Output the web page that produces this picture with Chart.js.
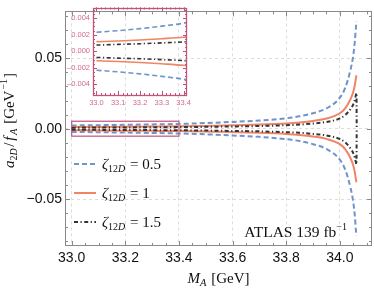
<!DOCTYPE html>
<html>
<head>
<meta charset="utf-8">
<script src="https://cdn.jsdelivr.net/npm/chart.js@4.4.1/dist/chart.umd.min.js"></script>
<style>
  html, body { margin: 0; padding: 0; background: #fff; }
  #wrap { position: relative; width: 374px; height: 292px; }
  #wrap canvas { position: absolute; left: 0; top: 0; }
</style>
</head>
<body>
<div id="wrap">
  <canvas id="mainChart" width="374" height="292"></canvas>
  <canvas id="insetChart" width="374" height="292"></canvas>
</div>
<script>
// Values (upper branch, the lower branch is its mirror image)
const massPoints = [33.0, 33.1, 33.2, 33.3, 33.4, 33.5, 33.6, 33.7, 33.8, 33.85, 33.9, 33.95, 34.0, 34.02, 34.04, 34.05, 34.056, 34.06, 34.062];
const zeta05Values = [0.0023, 0.0025, 0.00274, 0.00304, 0.0034, 0.004, 0.0048, 0.0058, 0.0074, 0.0088, 0.011, 0.0144, 0.022, 0.029, 0.042, 0.052, 0.062, 0.072, 0.076];
const zeta1Values = [0.00115, 0.00125, 0.00137, 0.00152, 0.0017, 0.002, 0.0024, 0.0029, 0.0037, 0.0044, 0.0055, 0.0072, 0.011, 0.0145, 0.021, 0.026, 0.031, 0.036, 0.038];
const zeta15Values = [0.00075, 0.00083, 0.00091, 0.00101, 0.00113, 0.00133, 0.0016, 0.0019, 0.0025, 0.0029, 0.0037, 0.0048, 0.0073, 0.0097, 0.014, 0.0173, 0.0207, 0.024, 0.0253];
const zeta15EndMass = 34.063; // the dash-dot curve closes through zero here
const zetaLabels = ['0.5', '1', '1.5'];

// tick labels
const xTickValues = [33.0, 33.2, 33.4, 33.6, 33.8, 34.0];
const xTickLabels = ['33.0', '33.2', '33.4', '33.6', '33.8', '34.0'];
const yTickValues = [-0.05, 0, 0.05];
const yTickLabels = ['\u22120.05', '0.00', '0.05'];
const insetXTickValues = [33.0, 33.1, 33.2, 33.3, 33.4];
const insetXTickLabels = ['33.0', '33.1', '33.2', '33.3', '33.4'];
const insetYTickValues = [-0.004, -0.002, 0, 0.002, 0.004];
const insetYTickLabels = ['\u20130.004', '\u20130.002', '0.000', '0.002', '0.004'];

// zoom window shown in the inset
const insetRange = { xMin: 33.0, xMax: 33.4, yMin: -0.0053, yMax: 0.0053 };

Chart.defaults.font.family = '"Liberation Sans", Arial, sans-serif';
Chart.defaults.animation = false;

const SERIF = '"Liberation Serif", "DejaVu Serif", serif';
const FRAME_GRAY = '#8a8a8a';
const PINK = '#c4507c';
const PINK_TEXT = '#d06a92';

const seriesStyles = [
    { color: '#6f93cb', dash: [5, 3], order: 2 },
    { color: '#f08466', dash: [], order: 1 },
    { color: '#333333', dash: [4, 2.5, 1.2, 2.5], order: 0 }
];

function toPoints(xs, ys, sign) {
    return xs.map((x, i) => ({ x: x, y: sign * ys[i] }));
}

function buildDatasets(lineWidth) {
    const curves = [zeta05Values, zeta1Values, zeta15Values];
    const sets = [];
    curves.forEach((vals, k) => {
        const st = seriesStyles[k];
        [1, -1].forEach(sign => {
            let pts = toPoints(massPoints, vals, sign);
            if (k === 2) pts.push({ x: zeta15EndMass, y: 0 });
            sets.push({
                label: 'zeta ' + zetaLabels[k],
                data: pts,
                borderColor: st.color,
                borderDash: st.dash,
                borderWidth: lineWidth,
                pointRadius: 0,
                fill: false,
                order: st.order,
                cubicInterpolationMode: 'monotone'
            });
        });
    });
    return sets;
}

/**
 * Draw a row of text pieces (for sub/superscripts) on one baseline
 */
function drawRuns(ctx, runs, x, y, align) {
    let total = 0;
    runs.forEach(r => {
        ctx.font = r.font;
        r.w = ctx.measureText(r.text).width + (r.gap || 0);
        total += r.w;
    });
    let cx = align === 'center' ? x - total / 2 : (align === 'right' ? x - total : x);
    ctx.textAlign = 'left';
    ctx.textBaseline = 'alphabetic';
    runs.forEach(r => {
        ctx.font = r.font;
        ctx.fillText(r.text, cx + (r.pre || 0), y + (r.dy || 0));
        cx += r.w;
    });
}

function it(size) { return 'italic ' + size + 'px ' + SERIF; }
function rm(size) { return size + 'px ' + SERIF; }

/**
 * Frame with inward ticks on all four sides
 */
function drawFrame(chart, opt) {
    const { ctx, chartArea: a, scales } = chart;
    const xs = scales.x, ys = scales.y;
    ctx.save();
    ctx.strokeStyle = opt.color;
    ctx.lineWidth = 1;
    const tick = (x1, y1, x2, y2) => {
        ctx.beginPath();
        ctx.moveTo(x1, y1);
        ctx.lineTo(x2, y2);
        ctx.stroke();
    };
    const xTicks = (vals, len) => vals.forEach(v => {
        const px = Math.round(xs.getPixelForValue(v)) + 0.5;
        if (px < a.left || px > a.right) return;
        tick(px, a.bottom, px, a.bottom - len);
        tick(px, a.top, px, a.top + len);
    });
    const yTicks = (vals, len) => vals.forEach(v => {
        const py = Math.round(ys.getPixelForValue(v)) + 0.5;
        if (py < a.top || py > a.bottom) return;
        tick(a.left, py, a.left + len, py);
        tick(a.right, py, a.right - len, py);
    });
    xTicks(opt.xMajor, opt.majLen);
    xTicks(opt.xMinor, opt.minLen);
    yTicks(opt.yMajor, opt.majLen);
    yTicks(opt.yMinor, opt.minLen);
    ctx.lineWidth = opt.frameWidth || 1;
    ctx.strokeRect(Math.round(a.left) + 0.5, Math.round(a.top) + 0.5,
        Math.round(a.right - a.left) - 1, Math.round(a.bottom - a.top) - 1);
    ctx.restore();
}

function range(from, to, step) {
    const out = [];
    const n = Math.round((to - from) / step);
    for (let i = 0; i <= n; i++) out.push(+(from + i * step).toFixed(6));
    return out;
}

const mainDecor = {
    id: 'mainDecor',
    beforeDatasetsDraw(chart) {
        const { ctx, scales } = chart;
        // box marking the zoomed region
        const x1 = scales.x.getPixelForValue(insetRange.xMin);
        const x2 = scales.x.getPixelForValue(insetRange.xMax);
        const y1 = scales.y.getPixelForValue(insetRange.yMax);
        const y2 = scales.y.getPixelForValue(insetRange.yMin);
        ctx.save();
        ctx.strokeStyle = PINK;
        ctx.lineWidth = 1.2;
        ctx.strokeRect(x1, y1, x2 - x1, y2 - y1);
        ctx.restore();
    },
    afterDraw(chart) {
        const { ctx, chartArea: a } = chart;
        drawFrame(chart, {
            color: FRAME_GRAY,
            xMajor: xTickValues, xMinor: range(33.0, 34.1, 0.05),
            yMajor: yTickValues, yMinor: range(-0.08, 0.08, 0.01),
            majLen: 5, minLen: 3
        });

        ctx.save();
        ctx.fillStyle = '#111';

        // legend
        const rows = [164, 193, 222];
        rows.forEach((ry, k) => {
            const st = seriesStyles[k];
            ctx.save();
            ctx.strokeStyle = st.color;
            ctx.lineWidth = 2;
            ctx.setLineDash(st.dash);
            ctx.beginPath();
            ctx.moveTo(74, ry);
            ctx.lineTo(96, ry);
            ctx.stroke();
            ctx.restore();
            drawRuns(ctx, [
                { text: '\u03b6', font: it(15) },
                { text: '12', font: rm(10), dy: 3 },
                { text: 'D', font: it(10), dy: 3, gap: 1 },
                { text: ' = ' + zetaLabels[k], font: rm(15) }
            ], 102, ry + 5, 'left');
        });

        // luminosity label
        drawRuns(ctx, [
            { text: 'ATLAS 139 fb', font: rm(15.5) },
            { text: '\u22121', font: rm(10), dy: -7 }
        ], 347, 236.5, 'right');

        // x axis title
        drawRuns(ctx, [
            { text: 'M', font: it(15) },
            { text: 'A', font: it(10.5), dy: 3, gap: 1 },
            { text: ' [GeV]', font: rm(15) }
        ], (a.left + a.right) / 2, 283, 'center');

        // y axis title
        ctx.translate(14, 120.5);
        ctx.rotate(-Math.PI / 2);
        drawRuns(ctx, [
            { text: 'a', font: it(15) },
            { text: '2', font: rm(10), dy: 3 },
            { text: 'D', font: it(10), dy: 3, gap: 1.5 },
            { text: '/', font: rm(15), gap: 2 },
            { text: 'f', font: it(15), gap: 1.5 },
            { text: 'A', font: it(10.5), dy: 3, gap: 1 },
            { text: ' [GeV', font: rm(15), gap: 1 },
            { text: '\u22121', font: rm(10), dy: -7, gap: 1 },
            { text: ']', font: rm(15) }
        ], 0, 0, 'center');
        ctx.restore();
    }
};

const insetDecor = {
    id: 'insetDecor',
    afterDraw(chart) {
        drawFrame(chart, {
            color: PINK,
            xMajor: insetXTickValues, xMinor: range(33.0, 33.4, 0.02),
            yMajor: insetYTickValues, yMinor: range(-0.005, 0.005, 0.0005),
            majLen: 4, minLen: 2, frameWidth: 1.3
        });
    }
};

function fixedTicks(values) {
    return function (scale) {
        scale.ticks = values.map(v => ({ value: v }));
    };
}

new Chart(document.getElementById('mainChart'), {
    type: 'line',
    data: { datasets: buildDatasets(2) },
    options: {
        responsive: false,
        devicePixelRatio: 1,
        layout: { padding: { left: 0, right: 2, top: 1, bottom: 0 } },
        plugins: { legend: { display: false }, tooltip: { enabled: false } },
        scales: {
            x: {
                type: 'linear',
                min: 32.975,
                max: 34.12,
                afterBuildTicks: fixedTicks(xTickValues),
                afterFit: s => { s.height = 46; },
                grid: { color: '#dcdcdc', drawTicks: false },
                border: { display: false, dash: [3, 3] },
                ticks: {
                    padding: 4,
                    color: '#111',
                    font: { size: 14 },
                    maxRotation: 0,
                    callback: (v, i) => xTickLabels[i]
                }
            },
            y: {
                type: 'linear',
                min: -0.0833,
                max: 0.0833,
                afterBuildTicks: fixedTicks(yTickValues),
                afterFit: s => { s.width = 65; },
                grid: { color: '#dcdcdc', drawTicks: false },
                border: { display: false, dash: [3, 3] },
                ticks: {
                    padding: 3,
                    color: '#111',
                    font: { size: 14 },
                    callback: (v, i) => yTickLabels[i]
                }
            }
        }
    },
    plugins: [mainDecor]
});

new Chart(document.getElementById('insetChart'), {
    type: 'line',
    data: { datasets: buildDatasets(1.6) },
    options: {
        responsive: false,
        devicePixelRatio: 1,
        layout: { padding: { left: 0, right: 187, top: 3, bottom: 0 } },
        plugins: { legend: { display: false }, tooltip: { enabled: false } },
        scales: {
            x: {
                type: 'linear',
                min: 32.984,
                max: 33.416,
                afterBuildTicks: fixedTicks(insetXTickValues),
                afterFit: s => { s.height = 197; },
                grid: { display: false, drawTicks: false },
                border: { display: false },
                ticks: {
                    padding: 3,
                    color: PINK_TEXT,
                    font: { size: 7.5 },
                    maxRotation: 0,
                    callback: (v, i) => insetXTickLabels[i]
                }
            },
            y: {
                type: 'linear',
                min: insetRange.yMin,
                max: insetRange.yMax,
                afterBuildTicks: fixedTicks(insetYTickValues),
                afterFit: s => { s.width = 93; },
                grid: { display: false, drawTicks: false },
                border: { display: false },
                ticks: {
                    padding: 3,
                    color: PINK_TEXT,
                    font: { size: 7.5 },
                    callback: (v, i) => insetYTickLabels[i]
                }
            }
        }
    },
    plugins: [insetDecor]
});
</script>
</body>
</html>
